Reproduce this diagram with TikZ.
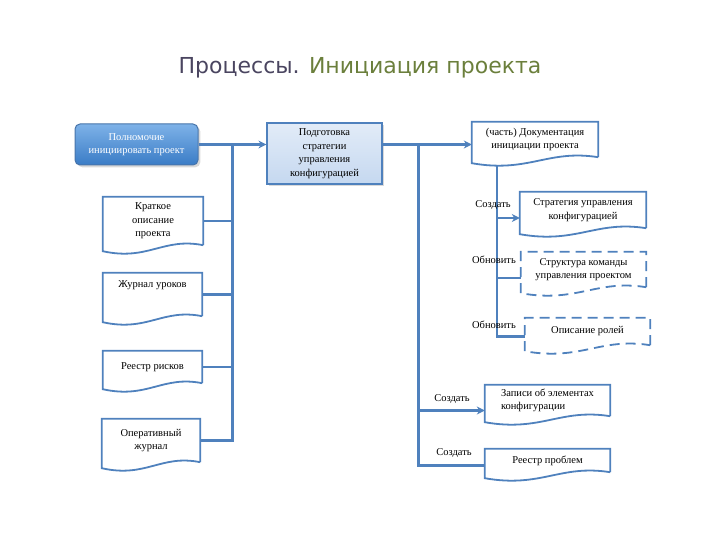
\documentclass[tikz,border=0pt]{standalone}
\usepackage{fontspec}
\setmainfont{Liberation Serif}
\newfontfamily\titlefont{DejaVu Sans}
\usetikzlibrary{positioning,arrows.meta,calc,shadows}
\definecolor{lineblue}{HTML}{4F81BD}
\definecolor{boxtop}{HTML}{7EB2E8}
\definecolor{boxbot}{HTML}{3A7CC6}
\definecolor{paleblue}{HTML}{C5D8F0}
\definecolor{titlegrey}{HTML}{4A4560}
\definecolor{titlegreen}{HTML}{6B7F3C}
\newcommand{\boxfont}{\fontsize{10.5}{13.5}\selectfont}
\newcommand{\docline}[2][]{%
  \draw[docedge,#1] (#2.south east) -- (#2.north east) -- (#2.north west) -- ($(#2.south west)+(0,6)$)
    .. controls ($(#2.south west)!0.45!(#2.south east)+(0,16)$) and ($(#2.south west)!0.6!(#2.south east)+(0,-8)$) .. (#2.south east);}
\tikzset{
  conn/.style={draw=lineblue,line width=2.6pt},
  docedge/.style={draw=lineblue,line width=1.8pt},
  docnode/.style={inner sep=2pt,align=center,font=\boxfont},
  lbl/.style={font=\boxfont},
}

\begin{document}
\begin{tikzpicture}[x=1pt,y=-1pt,>={Stealth[length=8pt,width=8pt]}]
\useasboundingbox (0,0) rectangle (720,540);
\node[font=\titlefont\fontsize{22}{26}\selectfont] (title) at (360,68) {\textcolor{titlegrey}{Процессы.} \textcolor{titlegreen}{Инициация проекта}};

% top row
\node[rounded corners=5pt,draw=lineblue!90!black,line width=1pt,top color=boxtop,bottom color=boxbot,text=white,font=\boxfont,align=center,minimum width=123pt,minimum height=41pt,drop shadow={opacity=0.3}] (auth) at (136.5,144.5) {Полномочие\\инициировать проект};
\node[draw=lineblue,line width=1.2pt,top color=paleblue!50,bottom color=paleblue,font=\boxfont,align=center,minimum width=115pt,minimum height=61pt,drop shadow={opacity=0.3}] (prep) at (324.5,153.5) {Подготовка\\стратегии\\управления\\конфигурацией};
\node[docnode,minimum width=126pt,minimum height=35pt] (pid) at (535,139.5) {(часть) Документация\\инициации проекта};

% inputs
\node[docnode,minimum width=100pt,minimum height=48pt] (brief) at (153,221) {Краткое\\описание\\проекта};
\node[docnode,minimum width=99pt,minimum height=43pt] (lessons) at (152.5,294.5) {};
\node[lbl,below=4pt of lessons.north] (lessonstxt) {Журнал уроков};
\node[docnode,minimum width=99pt,minimum height=32pt] (risks) at (152.5,367) {Реестр рисков};
\node[docnode,minimum width=98pt,minimum height=43pt] (daily) at (151,440.5) {Оперативный\\журнал};

% outputs
\node[docnode,minimum width=126pt,minimum height=36pt] (cmstrat) at (583,210) {Стратегия управления\\конфигурацией};
\node[docnode,minimum width=125pt,minimum height=35pt] (teamstr) at (583.5,269.5) {Структура команды\\управления проектом};
\node[docnode,minimum width=125pt,minimum height=27pt] (roles) at (587.5,331.5) {Описание ролей};
\node[docnode,align=left,minimum width=125pt,minimum height=31pt] (cirec) at (547.5,400.5) {Записи об элементах\\конфигурации};
\node[docnode,minimum width=125pt,minimum height=23pt] (issues) at (547.5,460.5) {Реестр проблем};

\foreach \d in {pid,brief,lessons,risks,daily,cmstrat,cirec,issues} {\docline{\d}}
\docline[dash pattern=on 10pt off 6pt]{teamstr}
\docline[dash pattern=on 10pt off 6pt]{roles}

% connectors
\draw[conn,->] (auth.east) -- (auth.east -| prep.west);
\draw[conn,->] (auth.east -| prep.east) -- (auth.east -| pid.west);
\coordinate (lbus) at ($(auth.east)!0.5!(auth.east -| prep.west)$);
\draw[conn] (lbus) |- (daily.east);
\foreach \d in {brief,lessons,risks} {\draw[conn] (\d.east) -- (\d.east -| lbus);}

\coordinate (mbus) at ($(auth.east -| prep.east)!0.4!(auth.east -| pid.west)$);
\coordinate (cirecin) at ([yshift=-10pt]cirec.west);
\coordinate (issuesin) at ([yshift=-5pt]issues.west);
\draw[conn] (mbus) |- (issuesin);
\draw[conn,->] (cirecin -| mbus) -- (cirecin);

\coordinate (rbus) at ([yshift=-8pt]$(pid.south west)!0.2!(pid.south east)$);
\coordinate (cmin) at ([yshift=-8pt]cmstrat.west);
\coordinate (teamin) at ([yshift=-8.5pt]teamstr.west);
\coordinate (rolesin) at ([yshift=-5pt]roles.west);
\draw[conn] (rbus) |- (rolesin);
\draw[conn,->] (cmin -| rbus) -- (cmin);
\draw[conn] (teamin -| rbus) -- (teamin);

% labels
\node[lbl] (create1) at (493,205) {Создать};
\node[lbl] (update1) at (494,260) {Обновить};
\node[lbl] (update2) at (494,325) {Обновить};
\node[lbl] (create2) at (452,399) {Создать};
\node[lbl] (create3) at (454,453) {Создать};
\end{tikzpicture}
\end{document}
